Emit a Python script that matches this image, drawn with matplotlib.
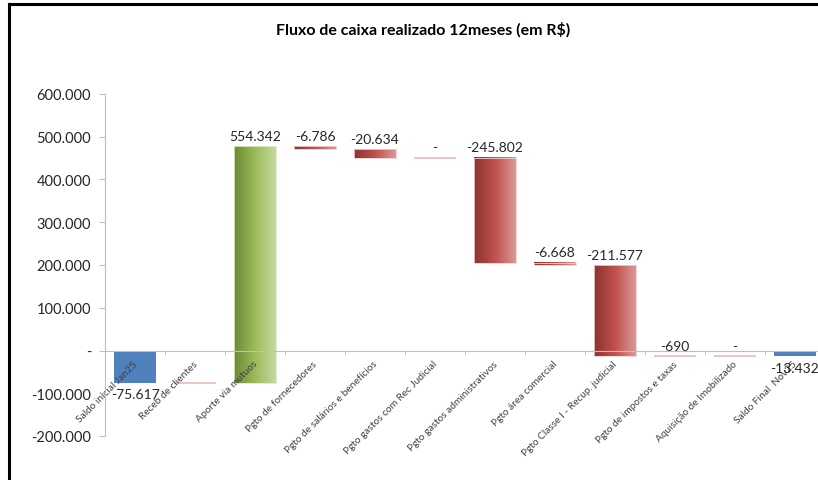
import matplotlib
matplotlib.use("Agg")
import matplotlib.pyplot as plt
from matplotlib.colors import LinearSegmentedColormap
from matplotlib.lines import Line2D
import matplotlib.transforms as mtransforms
import numpy as np

plt.rcParams['font.family'] = ['Lato', 'DejaVu Sans']

# dados
categorias = ["Saldo inicial Jan25", "Receb de clientes", "Aporte via mutuos",
              "Pgto de fornecedores", "Pgto de salários e benefícios",
              "Pgto gastos com Rec Judicial", "Pgto gastos administrativos",
              "Pgto área comercial", "Pgto Classe I - Recup. judicial",
              "Pgto de impostos e taxas", "Aquisição de Imobilizado", "Saldo Final  Nov25"]
valores = [-75617, 0, 554342, -6786, -20634, 0, -245802, -6668, -211577, -690, 0, -13432]
eh_total = [True, False, False, False, False, False, False, False, False, False, False, True]
mostrar_rotulo = [True, False, True, True, True, True, True, True, True, True, True, True]
yticks = [-200000, -100000, 0, 100000, 200000, 300000, 400000, 500000, 600000]
ytick_labels = ["-200.000", "-100.000", "-", "100.000", "200.000", "300.000",
                "400.000", "500.000", "600.000"]

def fmt(v):
    if v == 0:
        return "-"
    s = "{:,}".format(abs(v)).replace(",", ".")
    return "-" + s if v < 0 else s

cmap_red = LinearSegmentedColormap.from_list("red", ["#8A3330", "#C0504D", "#DA9A98"])
cmap_green = LinearSegmentedColormap.from_list("green", ["#6B8A35", "#9BBB59", "#C6D9A0"])
grad = np.tile(np.linspace(0, 1, 256), (4, 1))

fig = plt.figure(figsize=(8.18, 4.81), dpi=100)
ax = fig.add_axes([105 / 818, 1 - 437 / 481, 720 / 818, (437 - 95) / 481])

w = 0.69
acum = 0
for i, v in enumerate(valores):
    if eh_total[i]:
        base, topo = min(0, v), max(0, v)
        acum = v
        ax.bar(i, v, width=w, color="#4F81BD", zorder=1)
    else:
        ini = acum
        acum = acum + v
        base, topo = min(ini, acum), max(ini, acum)
        cmap = cmap_green if v > 0 else cmap_red
        if abs(v) < 2000:
            ax.hlines(topo, i - w / 2, i + w / 2, color="#F2B8B7", lw=1.2, zorder=1)
        else:
            ax.imshow(grad, cmap=cmap, aspect="auto", zorder=1, interpolation="nearest",
                      extent=(i - w / 2, i + w / 2, base, topo))
            ax.bar(i, topo - base, bottom=base, width=w, fill=False,
                   edgecolor="#F0D0D0" if v < 0 else "#E0EAC8", lw=0.6, zorder=1.5)
    if not mostrar_rotulo[i]:
        continue
    if eh_total[i] and v < 0:
        ax.annotate(fmt(v), (i, base), xytext=(0, -4), textcoords="offset points",
                    ha="center", va="top", fontsize=10, color="#262626", zorder=5)
    else:
        ax.annotate(fmt(v), (i, topo), xytext=(0, 3), textcoords="offset points",
                    ha="center", va="bottom", fontsize=10, color="#262626", zorder=5)

ax.set_xlim(-0.5, len(categorias) - 0.5)
ax.set_ylim(-200000, 600000)
ax.spines["top"].set_visible(False)
ax.spines["right"].set_visible(False)
ax.spines["bottom"].set_position(("data", 0))
ax.spines["bottom"].set_color("#BFBFBF")
ax.spines["left"].set_color("#BFBFBF")
ax.set_facecolor("none")

ax.set_xticks(np.arange(0.5, len(categorias) - 0.5, 1), minor=True)
ax.tick_params(axis="x", which="major", length=0, pad=6, labelrotation=45,
               labelsize=7.3, labelcolor="#404040")
ax.tick_params(axis="x", which="minor", length=3, color="#BFBFBF")
ax.tick_params(axis="y", length=4, color="#BFBFBF", pad=6, labelsize=10.5,
               labelcolor="#262626")
ax.set_yticks(yticks, ytick_labels)
ax.set_xticks(range(len(categorias)), categorias, rotation=45, ha="right")
desloc = mtransforms.ScaledTranslation(4 / 100, 0, fig.dpi_scale_trans)
for lab in ax.get_xticklabels():
    lab.set_transform(lab.get_transform() + desloc)

fig.text(423 / 818, 1 - 30 / 481, "Fluxo de caixa realizado 12meses (em R$)",
         ha="center", va="center", fontsize=11.5, fontweight="bold", color="#000000")

# moldura
fig.add_artist(Line2D([9 / 818, 1], [1 - 5 / 481, 1 - 5 / 481], color="black", lw=2.2,
                      transform=fig.transFigure))
fig.add_artist(Line2D([9 / 818, 9 / 818], [0, 1 - 5 / 481], color="black", lw=2.2,
                      transform=fig.transFigure))

fig.savefig("out.png", dpi=100)
